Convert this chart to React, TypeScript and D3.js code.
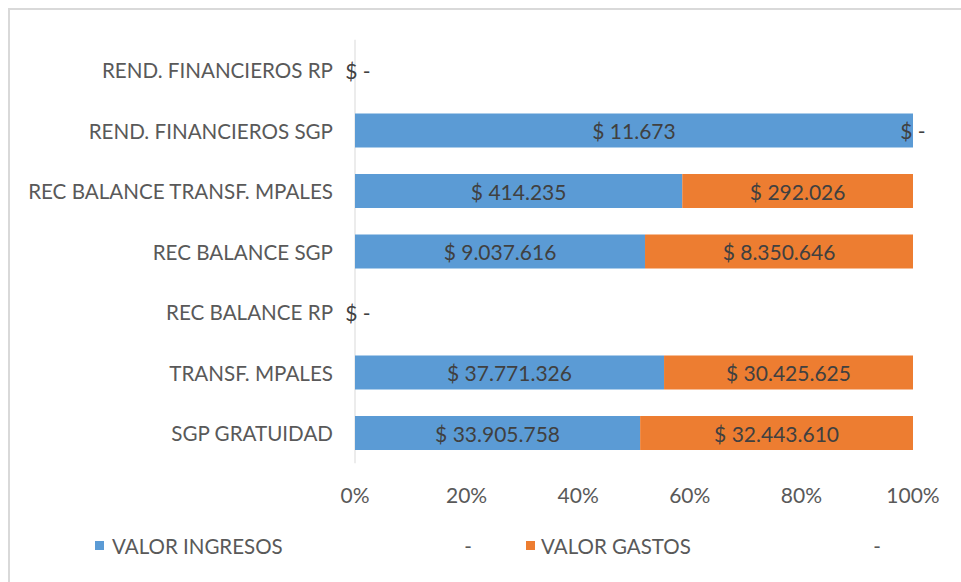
import React from "react";
import * as d3 from "d3";

const categories = [
  "REND. FINANCIEROS RP",
  "REND. FINANCIEROS SGP",
  "REC BALANCE TRANSF. MPALES",
  "REC BALANCE SGP",
  "REC BALANCE RP",
  "TRANSF. MPALES",
  "SGP GRATUIDAD",
];
const ingresos = [0, 11673, 414235, 9037616, 0, 37771326, 33905758];
const gastos = [0, 0, 292026, 8350646, 0, 30425625, 32443610];
const seriesNames = ["VALOR INGRESOS", "VALOR GASTOS"];
const tickValues = [0, 0.2, 0.4, 0.6, 0.8, 1];

const W = 961;
const H = 582;
const BLUE = "#5B9BD5";
const ORANGE = "#ED7D31";
const FONT = "Lato, 'Open Sans', sans-serif";

function fmt(v: number): string {
  if (v === 0) return "$ -";
  const s = Math.round(v)
    .toString()
    .replace(/\B(?=(\d{3})+(?!\d))/g, ".");
  return "$ " + s;
}

export default function App() {
  const x = d3.scaleLinear().domain([0, 1]).range([355, 913]);
  const y = d3
    .scaleBand<string>()
    .domain(categories)
    .range([39.75, 463.25])
    .paddingInner(0.438)
    .paddingOuter(0.219);
  const bw = y.bandwidth();

  const rows = categories.map((c, i) => {
    const total = ingresos[i] + gastos[i];
    const p1 = total > 0 ? ingresos[i] / total : 0;
    const p2 = total > 0 ? gastos[i] / total : 0;
    return { c, i, total, p1, p2 };
  });

  return (
    <svg
      width={W}
      height={H}
      style={{ position: "absolute", left: 0, top: 0, background: "#fff" }}
      fontFamily={FONT}
    >
      <rect x={0} y={0} width={W} height={H} fill="#fff" />
      <rect
        x={9}
        y={9}
        width={1200}
        height={1200}
        fill="none"
        stroke="#d9d9d9"
        strokeWidth={2}
      />
      {/* axis line */}
      <line
        x1={x(0)}
        x2={x(0)}
        y1={y.range()[0]}
        y2={y.range()[1]}
        stroke="#d9d9d9"
        strokeWidth={1}
      />
      {/* bars */}
      {rows.map((r) => {
        const yy = y(r.c)!;
        return (
          <g key={r.c}>
            {r.total > 0 && (
              <>
                <rect
                  x={x(0)}
                  y={yy}
                  width={x(r.p1) - x(0)}
                  height={bw}
                  fill={BLUE}
                />
                <rect
                  x={x(r.p1)}
                  y={yy}
                  width={x(r.p1 + r.p2) - x(r.p1)}
                  height={bw}
                  fill={ORANGE}
                />
              </>
            )}
          </g>
        );
      })}
      {/* data labels */}
      {rows.map((r) => {
        const cy = y(r.c)! + bw / 2;
        if (r.total === 0) {
          return (
            <text
              key={r.c + "l"}
              x={x(0) + 3}
              y={cy}
              textAnchor="middle"
              dominantBaseline="central"
              fontSize={21}
              fill="#404040"
            >
              {fmt(0)}
            </text>
          );
        }
        return (
          <g key={r.c + "l"}>
            <text
              x={(x(0) + x(r.p1)) / 2}
              y={cy}
              textAnchor="middle"
              dominantBaseline="central"
              fontSize={21}
              fill="#404040"
            >
              {fmt(ingresos[r.i])}
            </text>
            <text
              x={(x(r.p1) + x(r.p1 + r.p2)) / 2}
              y={cy}
              textAnchor="middle"
              dominantBaseline="central"
              fontSize={21}
              fill="#404040"
            >
              {fmt(gastos[r.i])}
            </text>
          </g>
        );
      })}
      {/* category labels */}
      {categories.map((c) => (
        <text
          key={c + "c"}
          x={333}
          y={y(c)! + bw / 2}
          textAnchor="end"
          dominantBaseline="central"
          fontSize={20.6}
          fill="#595959"
        >
          {c}
        </text>
      ))}
      {/* ticks */}
      {tickValues.map((t) => (
        <text
          key={"t" + t}
          x={x(t)}
          y={494}
          textAnchor="middle"
          dominantBaseline="central"
          fontSize={21}
          fill="#595959"
        >
          {d3.format(".0%")(t)}
        </text>
      ))}
      {/* legend */}
      <rect x={95} y={541} width={9} height={9} fill={BLUE} />
      <text x={112} y={546} dominantBaseline="central" fontSize={20.5} fill="#595959">
        {seriesNames[0]}
      </text>
      <text x={468} y={546} dominantBaseline="central" textAnchor="middle" fontSize={20.5} fill="#595959">
        -
      </text>
      <rect x={526} y={541} width={9} height={9} fill={ORANGE} />
      <text x={541} y={546} dominantBaseline="central" fontSize={20.5} fill="#595959">
        {seriesNames[1]}
      </text>
      <text x={877} y={546} dominantBaseline="central" textAnchor="middle" fontSize={20.5} fill="#595959">
        -
      </text>
    </svg>
  );
}
